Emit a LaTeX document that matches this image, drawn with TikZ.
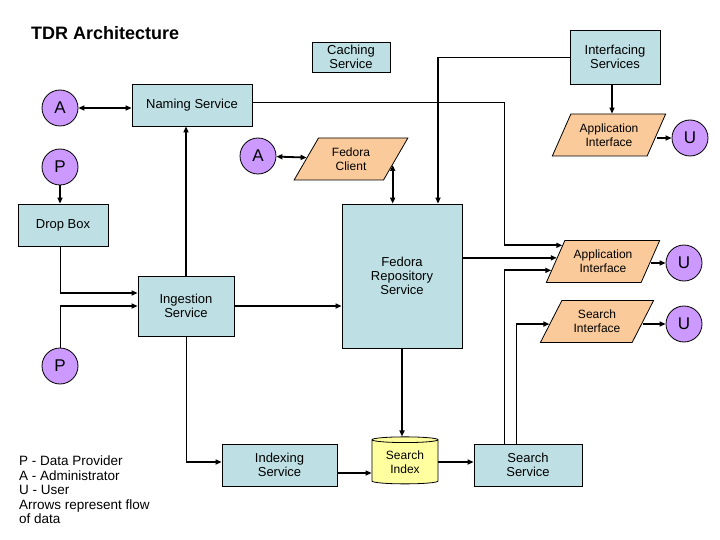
\documentclass[tikz,border=0pt]{standalone}
\usepackage{fontspec}
\setmainfont{Liberation Sans}
\usetikzlibrary{shapes.geometric,arrows.meta,calc}
\definecolor{boxblue}{RGB}{190,224,228}
\definecolor{peach}{RGB}{250,202,155}
\definecolor{lav}{RGB}{204,153,255}
\definecolor{lyel}{RGB}{255,255,160}
\begin{document}
\begin{tikzpicture}[x=1pt,y=-1pt,
 svc/.style={draw=black, fill=boxblue, line width=0.8pt, inner sep=0pt, align=center, font=\fontsize{13}{14}\selectfont},
 para/.style={trapezium, trapezium left angle=58, trapezium right angle=122, trapezium stretches=true, draw=black, line width=0.8pt, fill=peach, minimum width=114pt, minimum height=42pt, inner sep=0pt, align=center, font=\fontsize{12}{14}\selectfont},
 actor/.style={circle, draw=black, line width=0.8pt, fill=lav, minimum size=36pt, inner sep=0pt, font=\fontsize{17}{17}\selectfont},
 store/.style={cylinder, shape border rotate=90, shape aspect=0.15, draw=black, line width=0.8pt, fill=lyel, minimum width=66pt, minimum height=47pt, inner sep=0pt, align=center, font=\fontsize{12}{14}\selectfont},
 thinline/.style={line width=0.8pt},
 flow/.style={line width=1.8pt, -{Triangle[length=6pt,width=5pt]}},
 bflow/.style={line width=1.8pt, {Triangle[length=6pt,width=5pt]}-{Triangle[length=6pt,width=5pt]}},
]
\useasboundingbox (0,0) rectangle (720,540);
\fill[white] (0,0) rectangle (720,540);

\node[anchor=west, font=\bfseries\fontsize{18}{18}\selectfont, inner sep=0pt] (title) at (31,33) {TDR Architecture};

% services
\node[svc, minimum width=78pt, minimum height=30pt] (cache) at (351,57) {Caching\\Service};
\node[svc, minimum width=90pt, minimum height=54pt] (is) at (615,57) {Interfacing\\Services};
\node[svc, minimum width=120pt, minimum height=42pt] (naming) at (192,105) {Naming Service};
\node[svc, minimum width=90pt, minimum height=42pt] (dropbox) at (63,225) {Drop Box};
\node[svc, minimum width=120pt, minimum height=144pt] (repo) at (402,276) {Fedora\\Repository\\Service};
\node[svc, minimum width=96pt, minimum height=60pt] (ing) at (186,306) {Ingestion\\Service};
\node[svc, minimum width=115pt, minimum height=42pt] (idx) at (279.5,465) {Indexing\\Service};
\node[svc, minimum width=108pt, minimum height=42pt] (ss) at (528,465) {Search\\Service};
\node[store] (sidx) at (405,462) {Search\\Index};

% interfaces
\node[para] (fc) at (351,159) {Fedora\\Client};
\node[para] (ai1) at (609,135) {Application\\Interface};
\node[para] (ai2) at (603,261.5) {Application\\Interface};
\node[para] (si) at (597,321.5) {Search\\Interface};

% actors
\node[actor] (a1) at (60,108) {A};
\node[actor] (p1) at (60,167) {P};
\node[actor] (a2) at (258,156) {A};
\node[actor] (u1) at (690,138) {U};
\node[actor] (u2) at (684,263) {U};
\node[actor] (u3) at (684,324) {U};
\node[actor] (p2) at (60,366) {P};

% legend
\node[anchor=north west, align=left, inner sep=0pt, font=\fontsize{13.5}{14.5}\selectfont] (legend) at (19,456) {P - Data Provider\\A - Administrator\\U - User\\Arrows represent flow\\of data};

% helper coordinates
\coordinate (x60) at (60,0);
\coordinate (x438) at (438,0);
\coordinate (x504) at (504,0);
\coordinate (x516) at (516,0);
\coordinate (c1) at (60,293);
\coordinate (c2) at (60,306);
\coordinate (ai2a) at ($(ai2.bottom left corner)!0.878!(ai2.top left corner)$);
\coordinate (ai2b) at ($(ai2.bottom left corner)!0.585!(ai2.top left corner)$);
\coordinate (ai2c) at ($(ai2.bottom left corner)!0.293!(ai2.top left corner)$);
\coordinate (sia) at ($(si.bottom left corner)!0.44!(si.top left corner)$);
\coordinate (fcr) at ($(fc.bottom right corner)!0.36!(fc.top right corner)$);
\coordinate (n1) at ([yshift=3pt]naming.east);
\coordinate (c3) at ([yshift=3pt]idx.west);

% connectors
\draw[bflow] (a1.east) -- (a1.east -| naming.west);
\draw[flow] (p1.south) -- (p1.south |- dropbox.north);
\draw[thinline] (dropbox.south -| x60) -- (c1);
\draw[flow] (c1) -- (c1 -| ing.west);
\draw[thinline] (p2.north) -- (c2);
\draw[flow] (c2) -- (c2 -| ing.west);
\draw[flow] (ing.north) -- (ing.north |- naming.south);
\draw[flow] (ing.east) -- (ing.east -| repo.west);
\draw[thinline] (ing.south) -- (ing.south |- c3);
\draw[flow] (ing.south |- c3) -- (c3);
\draw[flow] ([yshift=-8pt]idx.east) -- ([yshift=-8pt]idx.east -| sidx.west);
\draw[flow] (repo.south) -- (repo.south |- sidx.north);
\draw[flow] (sidx.east) -- (sidx.east -| ss.west);
\draw[bflow] (a2) -- (fc);
\draw[bflow] (fcr) -- (fcr |- repo.north);
\draw[thinline] (is.west) -- (is.west -| x438);
\draw[flow] (is.west -| x438) -- (repo.north -| x438);
\draw[flow] ([xshift=-3pt]is.south) -- ([xshift=-3pt]is.south |- ai1.north);
\draw[thinline] (n1) -- (n1 -| x504) -- (ai2a -| x504);
\draw[flow] (ai2a -| x504) -- (ai2a);
\draw[flow] (ai2b -| repo.east) -- (ai2b);
\draw[thinline] (ss.north -| x504) -- (ai2c -| x504);
\draw[flow] (ai2c -| x504) -- (ai2c);
\draw[thinline] (ss.north -| x516) -- (sia -| x516);
\draw[flow] (sia -| x516) -- (sia);
\draw[flow] (ai1.east |- u1.west) -- (u1.west);
\draw[flow] (ai2.east |- u2.west) -- (u2.west);
\draw[flow] (si.east |- u3.west) -- (u3.west);
\end{tikzpicture}
\end{document}
